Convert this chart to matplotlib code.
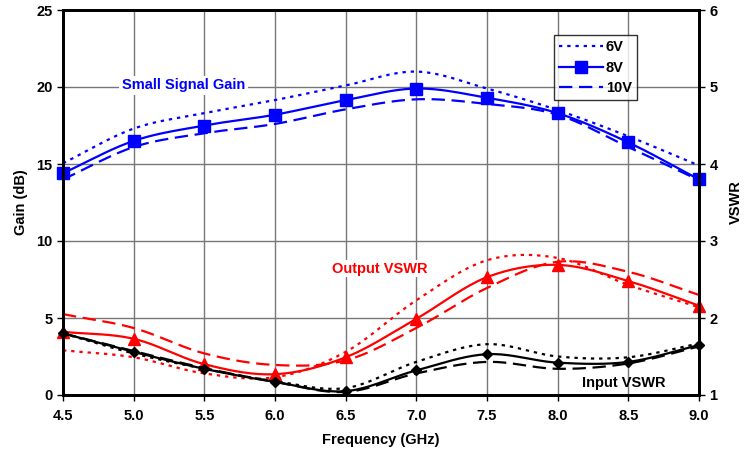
import numpy as np
import matplotlib
matplotlib.use("Agg")
import matplotlib.pyplot as plt

plt.rcParams['font.family'] = ['Liberation Sans', 'DejaVu Sans']
plt.rcParams['font.weight'] = 'bold'

# frequency points (GHz)
freq = [4.5, 5.0, 5.5, 6.0, 6.5, 7.0, 7.5, 8.0, 8.5, 9.0]

# small signal gain (dB)
gain_6v = [15.05, 17.3, 18.3, 19.15, 20.1, 21.0, 19.9, 18.5, 16.8, 14.9]
gain_8v = [14.4, 16.5, 17.5, 18.2, 19.15, 19.9, 19.3, 18.3, 16.4, 14.0]
gain_10v = [14.0, 16.1, 17.0, 17.6, 18.55, 19.2, 18.9, 18.2, 16.1, 13.95]

# output VSWR
out_6v = [1.58, 1.49, 1.28, 1.23, 1.56, 2.23, 2.75, 2.78, 2.43, 2.14]
out_8v = [1.82, 1.73, 1.40, 1.27, 1.49, 1.99, 2.53, 2.69, 2.48, 2.16]
out_10v = [2.05, 1.87, 1.54, 1.39, 1.45, 1.87, 2.39, 2.73, 2.60, 2.30]

# input VSWR
in_6v = [1.80, 1.54, 1.34, 1.18, 1.09, 1.43, 1.66, 1.50, 1.49, 1.67]
in_8v = [1.80, 1.56, 1.34, 1.17, 1.05, 1.32, 1.53, 1.42, 1.43, 1.65]
in_10v = [1.80, 1.57, 1.35, 1.17, 1.04, 1.28, 1.43, 1.34, 1.41, 1.63]


def smooth(x, y, n=20):
    # catmull-rom, roughly what excel does for "smoothed line"
    x = np.asarray(x, float)
    y = np.asarray(y, float)
    px = np.concatenate([[2 * x[0] - x[1]], x, [2 * x[-1] - x[-2]]])
    py = np.concatenate([[2 * y[0] - y[1]], y, [2 * y[-1] - y[-2]]])
    xs, ys = [], []
    t = np.linspace(0, 1, n, endpoint=False)
    for i in range(1, len(px) - 2):
        for p, out in ((px, xs), (py, ys)):
            p0, p1, p2, p3 = p[i - 1], p[i], p[i + 1], p[i + 2]
            out.extend(0.5 * (2 * p1 + (-p0 + p2) * t
                              + (2 * p0 - 5 * p1 + 4 * p2 - p3) * t ** 2
                              + (-p0 + 3 * p1 - 3 * p2 + p3) * t ** 3))
    xs.append(x[-1])
    ys.append(y[-1])
    return np.array(xs), np.array(ys)


fs = 10.5
fig = plt.figure(figsize=(7.48, 4.53), dpi=100)
ax = fig.add_axes([63 / 748, 1 - 395 / 453, (699 - 63) / 748, (395 - 10) / 453])
ax2 = ax.twinx()

dot = (0, (1.5, 2.2))
dash = (0, (6, 3))
lw = 1.6

blue = '#0000ff'
red = '#ff0000'

l6, = ax.plot(*smooth(freq, gain_6v), color=blue, lw=lw, linestyle=dot)
ax.plot(*smooth(freq, gain_8v), color=blue, lw=lw)
ax.plot(freq, gain_8v, 's', color=blue, ms=8, clip_on=False)
l10, = ax.plot(*smooth(freq, gain_10v), color=blue, lw=lw, linestyle=dash)
l8, = ax.plot([], [], color=blue, lw=lw, marker='s', ms=8)

for data, style in ((out_6v, dot), (out_8v, '-'), (out_10v, dash)):
    ax2.plot(*smooth(freq, data), color=red, lw=lw, linestyle=style)
ax2.plot(freq, out_8v, '^', color=red, ms=8.5, clip_on=False)

for data, style in ((in_6v, dot), (in_8v, '-'), (in_10v, dash)):
    ax2.plot(*smooth(freq, data), color='black', lw=lw, linestyle=style)
ax2.plot(freq, in_8v, 'D', color='black', ms=5.5, clip_on=False)

ax.set_xlim(4.5, 9.0)
ax.set_ylim(0, 25)
ax2.set_ylim(1, 6)
ax.set_xticks(freq)
ax.set_xticklabels(['%.1f' % f for f in freq])
ax.set_yticks([0, 5, 10, 15, 20, 25])
ax2.set_yticks([1, 2, 3, 4, 5, 6])

ax.grid(True, color='#777777', lw=1)
ax.set_axisbelow(True)
for a in (ax, ax2):
    for s in a.spines.values():
        s.set_linewidth(2)
    a.tick_params(labelsize=fs, width=1, length=4, direction='out')
ax.tick_params(axis='x', pad=6)

ax.set_xlabel('Frequency (GHz)', fontsize=fs, fontweight='bold', labelpad=7)
ax.set_ylabel('Gain (dB)', fontsize=fs, fontweight='bold', labelpad=6)
ax2.set_ylabel('VSWR', fontsize=fs, fontweight='bold', labelpad=8)

ax.text(5.35, 20.1, 'Small Signal Gain', color=blue, fontsize=fs, fontweight='bold',
        ha='center', va='center', bbox=dict(facecolor='white', edgecolor='none', pad=2))
ax2.text(6.74, 2.64, 'Output VSWR', color=red, fontsize=fs, fontweight='bold',
         ha='center', va='center', bbox=dict(facecolor='white', edgecolor='none', pad=1))
ax2.text(8.47, 1.16, 'Input VSWR', color='black', fontsize=fs, fontweight='bold',
         ha='center', va='center')

leg = ax2.legend([l6, l8, l10], ['6V', '8V', '10V'], loc='upper left',
                 bbox_to_anchor=(0.772, 0.935), borderaxespad=0, fontsize=fs,
                 frameon=True, fancybox=False, edgecolor='black', handlelength=3,
                 borderpad=0.35, labelspacing=0.45, handletextpad=0.2)
leg.get_frame().set_linewidth(1)

fig.savefig('out.png', dpi=100)
